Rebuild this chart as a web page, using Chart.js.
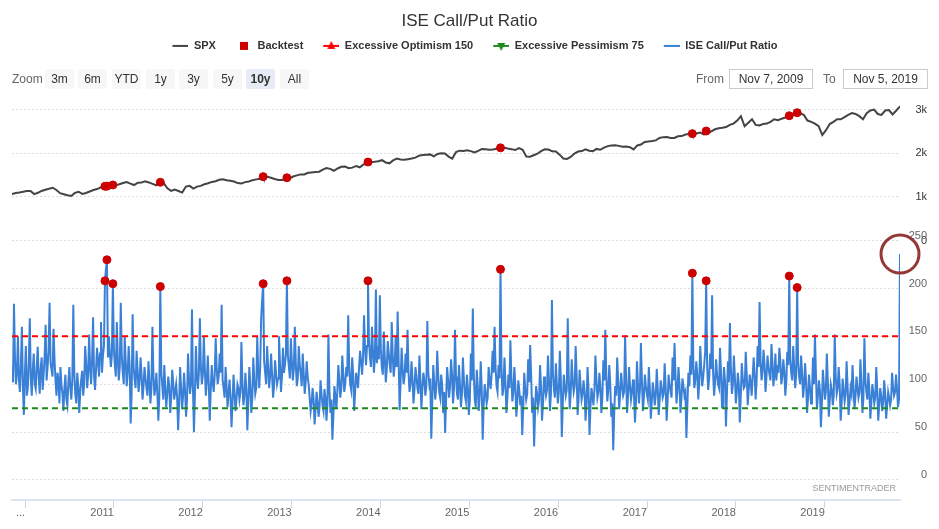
<!DOCTYPE html>
<html>
<head>
<meta charset="utf-8">
<script src="https://cdn.jsdelivr.net/npm/chart.js@4.4.1/dist/chart.umd.min.js"></script>
<style>
  body { margin: 0; background: #fff; }
  #wrap { position: relative; width: 939px; height: 529px; font-family: 'Liberation Sans', sans-serif; }
  #wrap div { position: absolute; font-size: 12px; white-space: nowrap; }
  .lbl { top: 71px; color: #666; line-height: 16px; }
  .btn { top: 69px; width: 29px; height: 20px; line-height: 20px; text-align: center; background: #f7f7f7; color: #333; border-radius: 2px; }
  .sel { background: #e6ebf5; font-weight: bold; }
  .box { top: 69px; height: 20px; line-height: 18px; box-sizing: border-box; border: 1px solid #ccc; text-align: center; color: #333; }
  .credit { font-size: 9px !important; color: #999; right: 43px; top: 483px; }
</style>
</head>
<body>
<div id="wrap">
  <canvas id="chart" width="939" height="529"></canvas>
  <div class="lbl" style="left:12px">Zoom</div>
  <div class="btn" style="left:45px">3m</div>
  <div class="btn" style="left:78px">6m</div>
  <div class="btn" style="left:112px">YTD</div>
  <div class="btn" style="left:146px">1y</div>
  <div class="btn" style="left:179px">3y</div>
  <div class="btn" style="left:213px">5y</div>
  <div class="btn sel" style="left:246px">10y</div>
  <div class="btn" style="left:280px">All</div>
  <div class="lbl" style="left:696px">From</div>
  <div class="box" style="left:729px;width:84px">Nov 7, 2009</div>
  <div class="lbl" style="left:823px">To</div>
  <div class="box" style="left:843px;width:85px">Nov 5, 2019</div>
  <div class="credit">SENTIMENTRADER</div>
</div>
<script>
// date range (decimal years): Nov 7 2009 .. Nov 5 2019
const startYear = 2009.853;
const endYear = 2019.846;
const yearTicks = [2010, 2011, 2012, 2013, 2014, 2015, 2016, 2017, 2018, 2019];
const spxTicks = [0, 1000, 2000, 3000];
const ratioTicks = [0, 50, 100, 150, 200, 250];

// S&P 500, roughly twice a month
const spxValues = [
  1069, 1092, 1103, 1118,
  1137, 1138, 1066, 1095, 1138, 1166, 1187, 1211, 1160, 1087, 1064, 1040, 1022, 1093, 1120, 1071, 1090, 1125, 1160, 1180, 1221, 1190, 1235, 1257,
  1270, 1290, 1321, 1340, 1305, 1273, 1328, 1332, 1357, 1333, 1300, 1268, 1343, 1317, 1200, 1140, 1170, 1136, 1100, 1238, 1254, 1192, 1237, 1254,
  1290, 1315, 1345, 1361, 1395, 1405, 1382, 1370, 1353, 1318, 1310, 1340, 1355, 1385, 1403, 1418, 1438, 1460, 1440, 1412, 1387, 1391, 1415, 1426,
  1468, 1494, 1517, 1515, 1553, 1562, 1570, 1578, 1625, 1660, 1643, 1600, 1652, 1690, 1697, 1657, 1672, 1710, 1680, 1745, 1770, 1795, 1805, 1818,
  1842, 1790, 1770, 1838, 1878, 1860, 1850, 1865, 1880, 1900, 1945, 1960, 1967, 1975, 1930, 1985, 2000, 1995, 1925, 1880, 2030, 2060, 2055, 2070,
  2050, 2020, 2055, 2100, 2090, 2080, 2085, 2105, 2110, 2125, 2108, 2095, 2075, 2120, 2080, 1925, 1920, 1955, 1990, 2050, 2090, 2085, 2045, 2040,
  1970, 1880, 1870, 1915, 1995, 2040, 2050, 2090, 2060, 2050, 2100, 2080, 2130, 2165, 2180, 2185, 2170, 2150, 2155, 2140, 2090, 2180, 2200, 2260,
  2270, 2280, 2295, 2350, 2370, 2375, 2350, 2350, 2390, 2395, 2430, 2440, 2425, 2455, 2475, 2430, 2460, 2500, 2550, 2575, 2585, 2600, 2650, 2680,
  2750, 2850, 2620, 2700, 2780, 2650, 2640, 2670, 2680, 2720, 2780, 2760, 2790, 2820, 2860, 2870, 2890, 2910, 2880, 2750, 2720, 2680, 2620, 2420,
  2530, 2670, 2720, 2780, 2780, 2830, 2880, 2920, 2900, 2850, 2780, 2920, 2980, 3000, 2900, 2880, 2980, 2990, 2890, 2980, 3075
];

// ISE call/put ratio, sampled about every 4 days
const ratioValues = [
  118, 102, 184, 128, 100, 112, 150, 104, 92, 120, 160, 98, 68, 110, 140, 88, 96, 124, 169, 106, 88, 115, 132, 100, 95, 118, 139, 108, 90, 116, 128, 94, 110, 130, 162, 104, 118, 136, 185, 122, 115, 108, 158, 126, 104, 88, 112, 104, 80, 118,
  100, 90, 72, 96, 110, 84, 78, 102, 118, 96, 84, 104, 183, 112, 90, 80, 112, 98, 70, 92, 105, 114, 88, 100, 140, 122, 96, 110, 152, 118, 100, 126, 170, 108, 94, 116, 138, 124, 108, 132, 165, 112, 130, 140, 208, 220, 230, 128, 150, 132,
  118, 130, 205, 138, 120, 108, 165, 126, 104, 118, 185, 130, 112, 100, 150, 124, 98, 112, 140, 118, 59, 90, 173, 118, 105, 96, 135, 114, 92, 104, 128, 110, 84, 98, 118, 106, 96, 88, 124, 102, 80, 96, 160, 110, 88, 96, 112, 90, 62, 88,
  202, 112, 98, 84, 120, 96, 76, 90, 108, 98, 70, 86, 115, 102, 84, 92, 100, 86, 52, 80, 118, 96, 74, 88, 112, 94, 66, 84, 132, 106, 90, 100, 178, 96, 50, 90, 140, 108, 95, 112, 169, 118, 100, 110, 150, 116, 88, 104, 130, 100,
  62, 94, 120, 102, 92, 110, 148, 116, 100, 108, 132, 112, 183, 104, 96, 86, 118, 98, 76, 90, 105, 86, 55, 80, 110, 92, 72, 84, 100, 96, 84, 92, 144, 100, 78, 88, 112, 94, 52, 82, 118, 98, 70, 86, 128, 104, 90, 96, 150, 112,
  96, 118, 170, 188, 205, 124, 112, 100, 140, 118, 96, 108, 132, 110, 86, 98, 125, 112, 100, 106, 150, 122, 92, 108, 138, 112, 120, 132, 208, 130, 118, 106, 148, 124, 104, 116, 160, 122, 98, 106, 140, 120, 110, 98, 132, 112, 90, 102, 124, 108,
  100, 86, 72, 80, 96, 84, 58, 74, 92, 82, 66, 76, 104, 90, 78, 72, 95, 86, 62, 80, 152, 94, 70, 84, 42, 66, 98, 88, 74, 92, 120, 104, 86, 96, 130, 110, 92, 100, 118, 108, 172, 118, 100, 94, 128, 110, 72, 92, 112, 104,
  96, 118, 135, 124, 110, 128, 172, 138, 120, 140, 208, 146, 128, 118, 160, 136, 112, 128, 199, 122, 140, 126, 193, 136, 118, 110, 155, 128, 102, 116, 145, 132, 120, 112, 165, 130, 108, 120, 150, 118, 176, 124, 73, 104, 138, 116, 100, 108, 132, 112,
  157, 112, 92, 100, 124, 106, 80, 94, 118, 108, 96, 90, 130, 104, 74, 96, 112, 104, 88, 98, 166, 112, 100, 106, 43, 82, 120, 102, 84, 96, 135, 110, 92, 86, 110, 100, 70, 92, 49, 84, 118, 104, 86, 98, 126, 110, 80, 96, 157, 108,
  90, 84, 120, 100, 76, 90, 128, 104, 88, 82, 110, 96, 68, 84, 132, 104, 179, 110, 84, 76, 115, 98, 72, 88, 124, 96, 42, 78, 100, 92, 80, 86, 118, 104, 95, 110, 135, 112, 160, 118, 98, 92, 120, 106, 220, 118, 88, 96, 128, 102,
  70, 86, 110, 96, 146, 108, 82, 92, 118, 98, 66, 82, 104, 94, 78, 88, 47, 76, 112, 96, 84, 90, 126, 102, 141, 110, 70, 86, 35, 72, 98, 90, 76, 84, 120, 98, 62, 80, 108, 96, 88, 94, 130, 104, 72, 90, 188, 112, 95, 86,
  122, 100, 80, 92, 135, 106, 45, 80, 110, 98, 88, 94, 169, 108, 74, 90, 126, 104, 92, 98, 140, 110, 68, 86, 115, 98, 84, 90, 104, 92, 62, 80, 118, 96, 47, 76, 96, 88, 78, 94, 130, 104, 86, 92, 112, 96, 70, 86, 125, 104,
  157, 108, 82, 94, 120, 100, 66, 80, 31, 70, 98, 88, 128, 104, 74, 90, 112, 98, 88, 92, 151, 106, 70, 88, 118, 98, 84, 92, 105, 88, 60, 82, 124, 100, 80, 94, 143, 104, 72, 86, 110, 98, 90, 84, 118, 96, 64, 82, 102, 92,
  78, 88, 116, 96, 68, 84, 104, 96, 86, 90, 122, 98, 62, 82, 110, 100, 92, 86, 128, 104, 143, 108, 80, 94, 118, 100, 70, 86, 106, 98, 88, 92, 44, 78, 112, 98, 130, 110, 216, 120, 96, 104, 124, 110, 84, 102, 140, 116, 98, 108,
  120, 134, 208, 118, 94, 106, 132, 116, 193, 112, 88, 102, 126, 110, 100, 96, 138, 112, 76, 94, 118, 104, 56, 90, 124, 102, 164, 116, 90, 100, 130, 108, 80, 92, 112, 100, 60, 88, 122, 106, 96, 98, 134, 110, 78, 94, 110, 102, 88, 108,
  128, 110, 84, 104, 140, 118, 186, 124, 104, 114, 136, 120, 92, 108, 130, 118, 110, 104, 142, 122, 98, 110, 132, 104, 120, 112, 138, 124, 100, 108, 126, 114, 88, 102, 134, 120, 213, 126, 112, 104, 140, 118, 96, 110, 201, 122, 108, 100, 130, 112,
  86, 98, 122, 104, 70, 86, 110, 96, 80, 90, 128, 100, 152, 110, 74, 88, 104, 94, 55, 80, 115, 100, 84, 92, 132, 104, 66, 84, 100, 94, 78, 88, 152, 108, 90, 96, 118, 100, 62, 80, 106, 94, 82, 90, 124, 98, 68, 82, 96, 90,
  120, 96, 74, 88, 108, 96, 86, 92, 126, 100, 70, 86, 148, 104, 92, 84, 112, 94, 64, 80, 100, 92, 80, 86, 118, 94, 62, 78, 96, 88, 72, 82, 104, 90, 64, 78, 92, 86, 78, 84, 112, 96, 88, 92, 110, 94, 76, 84, 236
];

// backtest signals: position in ratioValues, and the S&P 500 level that day
const backtestIndex = [94, 96, 102, 150, 254, 278, 360, 494, 688, 702, 786, 794];
const backtestSpx = [1245, 1248, 1275, 1337, 1465, 1440, 1800, 2125, 2450, 2510, 2860, 2930];

const optimismLevel = 150;
const pessimismLevel = 75;

const FONT = "'Liberation Sans', Arial, sans-serif";

const ratioStep = (endYear - startYear) / (ratioValues.length - 1);
const spxStep = (endYear - startYear) / (spxValues.length - 1);
const ratioDates = ratioValues.map((v, i) => startYear + i * ratioStep);

const ratioData = ratioValues.map((v, i) => ({ x: ratioDates[i], y: v }));
const backtestRatio = backtestIndex.map(i => ({ x: ratioDates[i], y: ratioValues[i] }));
const backtestSpxData = backtestIndex.map((i, k) => ({ x: ratioDates[i], y: backtestSpx[k] }));
const spxData = spxValues.map((v, i) => ({ x: startYear + i * spxStep, y: v }))
  .concat(backtestSpxData).sort((a, b) => a.x - b.x);
const last = ratioData[ratioData.length - 1];

// legend symbols, drawn in the right part of a 27px box
function symbol(kind, color) {
  const c = document.createElement('canvas');
  c.width = 27; c.height = 12;
  const g = c.getContext('2d');
  g.strokeStyle = color; g.fillStyle = color; g.lineWidth = 2;
  if (kind !== 'square') {
    g.beginPath(); g.moveTo(11, 6); g.lineTo(27, 6); g.stroke();
  }
  g.beginPath();
  if (kind === 'square') g.rect(15, 2, 8, 8);
  if (kind === 'up') { g.moveTo(19, 1); g.lineTo(23, 9); g.lineTo(15, 9); }
  if (kind === 'down') { g.moveTo(15, 3); g.lineTo(23, 3); g.lineTo(19, 11); }
  g.fill();
  return c;
}
const legendSymbols = {
  'SPX': symbol('line', '#434348'),
  'Backtest': symbol('square', '#cc0000'),
  'Excessive Optimism 150': symbol('up', '#ff0000'),
  'Excessive Pessimism 75': symbol('down', '#1e8a1e'),
  'ISE Call/Put Ratio': symbol('line', '#3a80d6')
};

new Chart(document.getElementById('chart'), {
  type: 'line',
  data: {
    datasets: [
      { label: 'SPX', data: spxData, yAxisID: 'ySpx', borderColor: '#434348', borderWidth: 2, pointRadius: 0 },
      { label: 'Backtest', data: backtestRatio, yAxisID: 'yRatio', showLine: false, pointRadius: 4, pointBackgroundColor: '#cc0000', pointBorderColor: '#cc0000', borderColor: '#cc0000', backgroundColor: '#cc0000' },
      { label: 'Excessive Optimism 150', data: [{ x: startYear, y: optimismLevel }, { x: endYear, y: optimismLevel }], yAxisID: 'yRatio', borderColor: '#ff0000', borderWidth: 2, borderDash: [6, 4], pointRadius: 0 },
      { label: 'Excessive Pessimism 75', data: [{ x: startYear, y: pessimismLevel }, { x: endYear, y: pessimismLevel }], yAxisID: 'yRatio', borderColor: '#1e8a1e', borderWidth: 2, borderDash: [6, 4], pointRadius: 0 },
      { label: 'ISE Call/Put Ratio', data: ratioData, yAxisID: 'yRatio', borderColor: '#3a80d6', borderWidth: 2, pointRadius: 0 },
      { label: '', data: backtestSpxData, yAxisID: 'ySpx', showLine: false, pointRadius: 4, pointBackgroundColor: '#cc0000', pointBorderColor: '#cc0000', order: -1 },
      { label: '', data: [last], yAxisID: 'yRatio', showLine: false, pointRadius: 19, pointBorderWidth: 3, pointBorderColor: '#953735', pointBackgroundColor: 'rgba(0,0,0,0)', clip: false, order: -2 }
    ]
  },
  options: {
    responsive: false,
    animation: false,
    events: [],
    layout: { autoPadding: false, padding: { left: 12, right: 12, top: 0, bottom: 0 } },
    plugins: {
      title: {
        display: true, text: 'ISE Call/Put Ratio', color: '#333',
        font: { family: FONT, size: 17, weight: 'normal' },
        padding: { top: 11, bottom: 0 }
      },
      subtitle: {
        display: true, text: '', weight: 500,
        font: { size: 10 }, padding: { top: 21, bottom: 0 }
      },
      legend: {
        position: 'top',
        labels: {
          color: '#333', font: { family: FONT, size: 11, weight: 'bold' },
          usePointStyle: true, pointStyleWidth: 27, padding: 9,
          generateLabels(chart) {
            const items = Chart.defaults.plugins.legend.labels.generateLabels(chart);
            return items.filter(it => legendSymbols[it.text])
              .map(it => Object.assign(it, { pointStyle: legendSymbols[it.text] }));
          }
        }
      },
      tooltip: { enabled: false }
    },
    scales: {
      x: {
        type: 'linear', min: startYear, max: endYear,
        afterBuildTicks: s => { s.ticks = yearTicks.map(v => ({ value: v })); },
        afterFit: s => { s.height = 29; s.paddingLeft = 0; s.paddingRight = 0; },
        ticks: {
          autoSkip: false, maxRotation: 0, align: 'end', padding: -2,
          color: '#666', font: { family: FONT, size: 11 },
          callback: v => v === yearTicks[0] ? '...' : String(v)
        },
        grid: { drawOnChartArea: false, drawTicks: true, tickLength: 8, tickColor: '#ccd6eb' },
        border: { color: '#dde3f0', width: 2 }
      },
      ySpx: {
        type: 'linear', position: 'right', stack: 'panes', stackWeight: 146,
        min: 0, max: 3349,
        afterBuildTicks: s => { s.ticks = spxTicks.map(v => ({ value: v })); },
        afterFit: s => { s.width = 27; },
        ticks: {
          crossAlign: 'far', padding: 15, color: '#333', font: { family: FONT, size: 11 },
          callback: v => v === 0 ? '0' : (v / 1000) + 'k'
        },
        grid: { color: '#dcdcdc', drawTicks: false },
        border: { display: false, dash: [2, 2] }
      },
      yRatio: {
        type: 'linear', position: 'right', stack: 'panes', stackWeight: 259,
        min: -20.9, max: 250,
        afterBuildTicks: s => { s.ticks = ratioTicks.map(v => ({ value: v })); },
        afterFit: s => { s.width = 27; },
        ticks: {
          crossAlign: 'far', padding: 9, labelOffset: -5, color: '#666', font: { family: FONT, size: 11 }
        },
        grid: { color: '#dcdcdc', drawTicks: false },
        border: { display: false, dash: [2, 2] }
      }
    }
  }
});
</script>
</body>
</html>
